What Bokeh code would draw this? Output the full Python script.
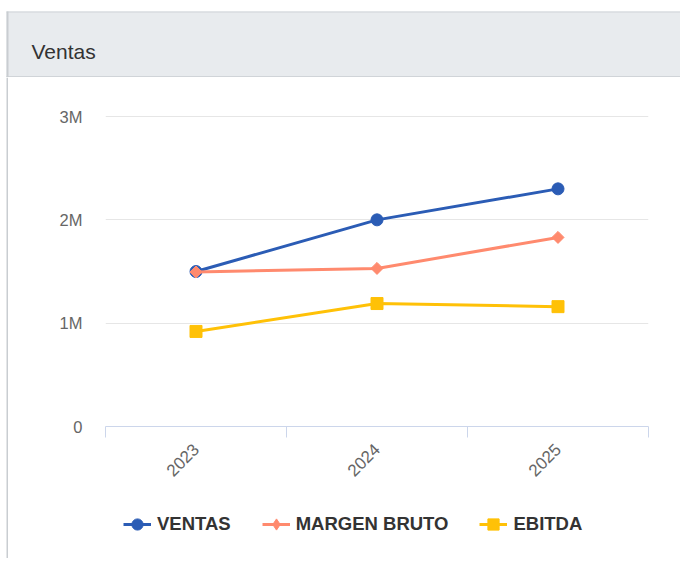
import math
from bokeh.plotting import figure
from bokeh.models import FixedTicker, Range1d, Legend, LegendItem
from bokeh.layouts import column, row
from bokeh.core.properties import value
from bokeh.embed import file_html
from bokeh.resources import INLINE

# ---- data ----
title_text = "Ventas"
years = ["2023", "2024", "2025"]
ventas = [1.50e6, 2.00e6, 2.30e6]
margen_bruto = [1.495e6, 1.53e6, 1.83e6]
ebitda = [0.92e6, 1.19e6, 1.16e6]
series_names = ["VENTAS", "MARGEN BRUTO", "EBITDA"]
y_ticks = [0, 1_000_000, 2_000_000, 3_000_000]
y_tick_labels = ["0", "1M", "2M", "3M"]

FONT = "Liberation Sans"
C_VENTAS = "#2B5CB5"
C_MARGEN = "#FF8A6E"
C_EBITDA = "#FFC107"
HEADER_BG = "#E8EBEE"
BORDER = "#D0D4D8"
LEFT_BORDER = "#C9CDD1"

W = 680
HEAD_H = 77
MAIN_H = 423
LEG_H = 58
STRIP_W = 8


def blank(fig):
    fig.axis.visible = False
    fig.grid.visible = False
    return fig


# ---- header (card title bar) ----
header = blank(figure(width=W, height=HEAD_H, x_range=Range1d(0, W), y_range=Range1d(0, HEAD_H),
                      output_backend="svg", toolbar_location=None, min_border=0,
                      outline_line_color=None, background_fill_color="white",
                      border_fill_color="white"))
header.quad(left=[6], right=[W], bottom=[0], top=[66], fill_color=HEADER_BG, line_color=None)
header.quad(left=[6], right=[W], bottom=[65], top=[66], fill_color=BORDER, line_color=None)
header.quad(left=[6], right=[W], bottom=[0], top=[1.5], fill_color=BORDER, line_color=None)
header.quad(left=[6], right=[8], bottom=[0], top=[66], fill_color=LEFT_BORDER, line_color=None)
header.text(x=[31], y=[26], text=[title_text], text_font=value(FONT), text_font_size="21px",
            text_color="#333333", text_baseline="middle", text_align="left")

# ---- left border strip of card body ----
strip = blank(figure(width=STRIP_W, height=MAIN_H + LEG_H, x_range=Range1d(0, STRIP_W),
                     y_range=Range1d(0, 1), output_backend="svg", toolbar_location=None,
                     min_border=0, outline_line_color=None, background_fill_color="white",
                     border_fill_color="white"))
strip.quad(left=[6], right=[8], bottom=[0], top=[1], fill_color=LEFT_BORDER, line_color=None)

# ---- main chart ----
xs = [i + 0.5 for i in range(len(years))]
p = figure(width=W - STRIP_W, height=MAIN_H, x_range=Range1d(0, len(years)),
           y_range=Range1d(0, 3.01e6), output_backend="svg", toolbar_location=None,
           min_border_left=97, min_border_right=32, min_border_top=38, min_border_bottom=74,
           outline_line_color=None, background_fill_color="white", border_fill_color="white")

p.xgrid.visible = False
p.ygrid.grid_line_color = "#E6E6E6"
p.ygrid.grid_line_width = 1

xa = p.xaxis[0]
xa.ticker = FixedTicker(ticks=xs, minor_ticks=list(range(len(years) + 1)))
xa.major_label_overrides = {x: y for x, y in zip(xs, years)}
xa.axis_line_color = "#CCD6EB"
xa.major_tick_line_color = None
xa.major_tick_out = 0
xa.major_tick_in = 0
xa.minor_tick_line_color = "#CCD6EB"
xa.minor_tick_out = 11
xa.minor_tick_in = 0
xa.major_label_orientation = math.pi / 4
xa.major_label_standoff = 9
xa.major_label_text_font = FONT
xa.major_label_text_font_size = "17px"
xa.major_label_text_color = "#666666"

ya = p.yaxis[0]
ya.ticker = FixedTicker(ticks=y_ticks)
ya.major_label_overrides = {t: l for t, l in zip(y_ticks, y_tick_labels)}
ya.axis_line_color = None
ya.major_tick_line_color = None
ya.minor_tick_line_color = None
ya.major_tick_out = 0
ya.major_label_standoff = 23
ya.major_label_text_font = FONT
ya.major_label_text_font_size = "16.5px"
ya.major_label_text_color = "#666666"


def add_series(fig, visible=True, diamond="square", diamond_angle=math.pi / 4, diamond_size=8.5):
    r1l = fig.line(xs, ventas, line_color=C_VENTAS, line_width=3, visible=visible)
    r1m = fig.scatter(xs, ventas, marker="circle", size=12, fill_color=C_VENTAS,
                      line_color=C_VENTAS, visible=visible)
    r2l = fig.line(xs, margen_bruto, line_color=C_MARGEN, line_width=3, visible=visible)
    r2m = fig.scatter(xs, margen_bruto, marker=diamond, angle=diamond_angle, size=diamond_size,
                      fill_color=C_MARGEN, line_color=C_MARGEN, visible=visible)
    r3l = fig.line(xs, ebitda, line_color=C_EBITDA, line_width=3, visible=visible)
    r3m = fig.scatter(xs, ebitda, marker="square", size=12, fill_color=C_EBITDA,
                      line_color=C_EBITDA, visible=visible)
    return [[r1l, r1m], [r2l, r2m], [r3l, r3m]]


add_series(p)

# ---- legend row (own figure, legend keyed to hidden copies of the series) ----
leg_fig = blank(figure(width=W - STRIP_W, height=LEG_H, x_range=Range1d(0, 1),
                       y_range=Range1d(0, 1), output_backend="svg", toolbar_location=None,
                       min_border=0, outline_line_color=None, background_fill_color="white",
                       border_fill_color="white"))
leg_rs = add_series(leg_fig, visible=False, diamond="diamond", diamond_angle=0, diamond_size=12)
legend = Legend(items=[LegendItem(label=n, renderers=rs) for n, rs in zip(series_names, leg_rs)],
                orientation="horizontal", location=(18, 20), glyph_width=28, glyph_height=28,
                label_standoff=6, spacing=31, padding=0, margin=0, border_line_color=None,
                background_fill_alpha=0, label_text_font=FONT, label_text_font_size="18.5px",
                label_text_font_style="bold", label_text_color="#333333", label_height=28,
                click_policy="none")
leg_fig.add_layout(legend)

layout = column(header, row(strip, column(p, leg_fig, spacing=0), spacing=0), spacing=0)

open("out.html", "w").write(file_html(layout, INLINE))
